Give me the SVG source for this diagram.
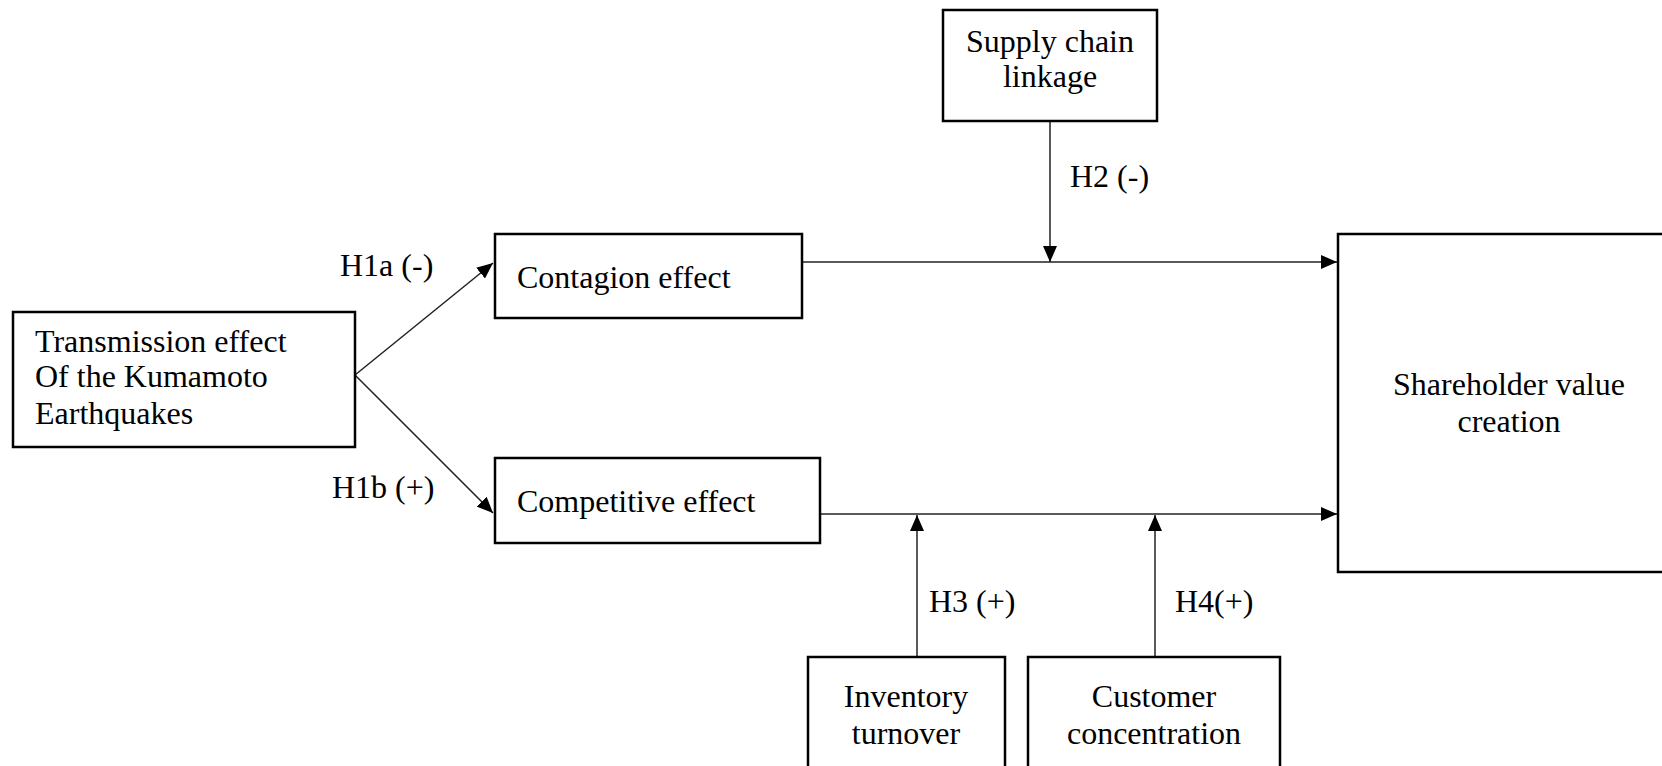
<svg xmlns="http://www.w3.org/2000/svg" width="1662" height="766" viewBox="0 0 1662 766">
<style>
.box{fill:#fff;stroke:#000;stroke-width:2.5}
.ln{fill:none;stroke:#222;stroke-width:1.5}
text{font-family:"Liberation Serif","Times New Roman",serif;font-size:32px;fill:#000}
.c{text-anchor:middle}
</style>
<defs>
<marker id="ah" markerUnits="userSpaceOnUse" markerWidth="16" markerHeight="14" refX="16" refY="7" orient="auto">
<path d="M0,0 L16,7 L0,14 z" fill="#000"/>
</marker>
</defs>
<rect width="1662" height="766" fill="#fff"/>
<g id="connectors">
<line class="ln" x1="355" y1="375" x2="493" y2="263" marker-end="url(#ah)"/>
<line class="ln" x1="355" y1="375" x2="493" y2="513" marker-end="url(#ah)"/>
<line class="ln" x1="802" y1="262" x2="1337" y2="262" marker-end="url(#ah)"/>
<line class="ln" x1="820" y1="514" x2="1337" y2="514" marker-end="url(#ah)"/>
<line class="ln" x1="1050" y1="121" x2="1050" y2="262" marker-end="url(#ah)"/>
<line class="ln" x1="917" y1="657" x2="917" y2="515" marker-end="url(#ah)"/>
<line class="ln" x1="1155" y1="657" x2="1155" y2="515" marker-end="url(#ah)"/>
<text x="340" y="276">H1a (-)</text>
<text x="332" y="498">H1b (+)</text>
<text x="1070" y="187">H2 (-)</text>
<text x="929" y="612">H3 (+)</text>
<text x="1175" y="612">H4(+)</text>
</g>
<g id="transmission">
<rect class="box" x="13" y="312" width="342" height="135"/>
<text x="35" y="352">Transmission effect</text>
<text x="35" y="387">Of the Kumamoto</text>
<text x="35" y="424">Earthquakes</text>
</g>
<g id="contagion">
<rect class="box" x="495" y="234" width="307" height="84"/>
<text x="517" y="288">Contagion effect</text>
</g>
<g id="competitive">
<rect class="box" x="495" y="458" width="325" height="85"/>
<text x="517" y="512">Competitive effect</text>
</g>
<g id="supply">
<rect class="box" x="943" y="10" width="214" height="111"/>
<text class="c" x="1050" y="52">Supply chain</text>
<text class="c" x="1050" y="87">linkage</text>
</g>
<g id="shareholder">
<rect class="box" x="1338" y="234" width="340" height="338"/>
<text class="c" x="1509" y="395">Shareholder value</text>
<text class="c" x="1509" y="432">creation</text>
</g>
<g id="inventory">
<rect class="box" x="808" y="657" width="197" height="130"/>
<text class="c" x="906" y="707">Inventory</text>
<text class="c" x="906" y="744">turnover</text>
</g>
<g id="customer">
<rect class="box" x="1028" y="657" width="252" height="130"/>
<text class="c" x="1154" y="707">Customer</text>
<text class="c" x="1154" y="744">concentration</text>
</g>
</svg>
